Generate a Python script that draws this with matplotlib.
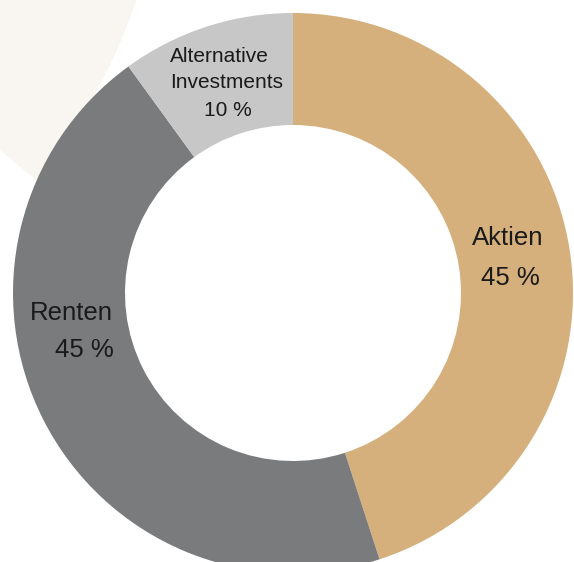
import matplotlib
matplotlib.use("Agg")
import matplotlib.pyplot as plt
from matplotlib.patches import Wedge

# Portfolio split
labels = ["Aktien", "Renten", "Alternative\nInvestments"]
shares = [45, 45, 10]
colors = ["#d6b07c", "#7a7b7d", "#c6c7c6"]

W, H = 574, 562
plt.rcParams['font.family'] = ['Liberation Sans', 'DejaVu Sans']

fig = plt.figure(figsize=(W / 100, H / 100), dpi=100)
ax = fig.add_axes([0, 0, 1, 1])

# faint decorative ring in the top-left corner
ax.add_patch(Wedge((-408, H + 185), 575, -39.4, 10, width=200,
                   facecolor="#f9f5f1", edgecolor="none", zorder=0))

ax.pie(shares, colors=colors, startangle=90, counterclock=False,
       center=(293, H - 293), radius=280,
       wedgeprops=dict(width=112, linewidth=0))

ax.set_xlim(0, W)
ax.set_ylim(0, H)
ax.set_aspect('equal')
ax.axis('off')

txt = "#1a1a1a"
# Aktien
ax.text(508, H - 238, labels[0], fontsize=18.5, color=txt, ha='center', va='center')
ax.text(510, H - 278, f"{shares[0]} %", fontsize=18.5, color=txt, ha='center', va='center')
# Renten
ax.text(113, H - 313, labels[1], fontsize=18.5, color=txt, ha='right', va='center')
ax.text(114, H - 350, f"{shares[1]} %", fontsize=18.5, color=txt, ha='right', va='center')
# Alternative Investments
l1, l2 = labels[2].split("\n")
ax.text(170, H - 57, l1, fontsize=15, color=txt, ha='left', va='center')
ax.text(170, H - 82, l2, fontsize=15, color=txt, ha='left', va='center')
ax.text(228, H - 110, f"{shares[2]} %", fontsize=15, color=txt, ha='center', va='center')

fig.savefig("out.png", dpi=100)
